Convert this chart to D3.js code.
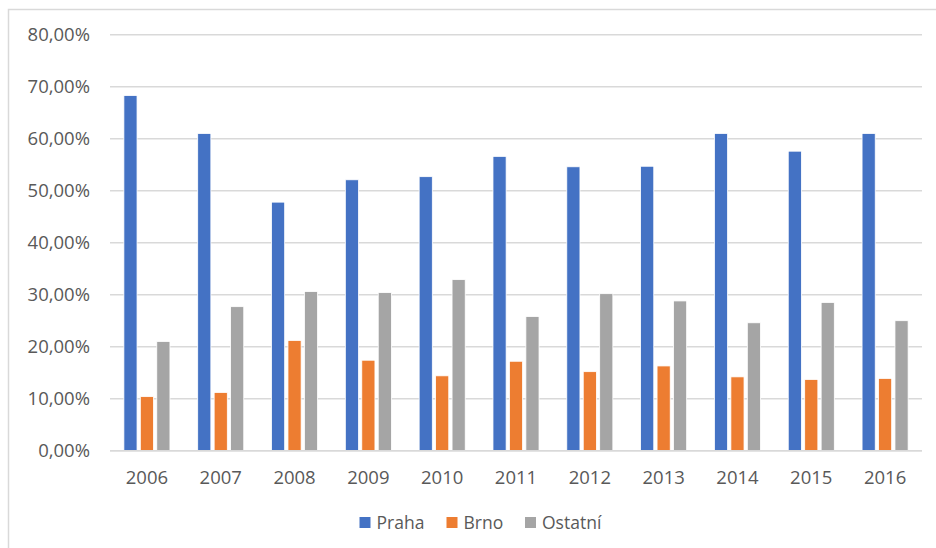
<!DOCTYPE html>
<html>
<head>
<meta charset="utf-8">
<script src="https://cdn.jsdelivr.net/npm/d3@7"></script>
<style>
  body { margin: 0; background: #fff; }
  text { font-family: "Open Sans", "Noto Sans", sans-serif; fill: #595959; }
</style>
</head>
<body>
<div id="chart"></div>
<script>
var years = ["2006","2007","2008","2009","2010","2011","2012","2013","2014","2015","2016"];
var seriesNames = ["Praha","Brno","Ostatní"];
var praha   = [68.3, 61.0, 47.8, 52.1, 52.7, 56.6, 54.6, 54.7, 61.0, 57.6, 61.0];
var brno    = [10.4, 11.2, 21.2, 17.4, 14.4, 17.2, 15.2, 16.3, 14.2, 13.7, 13.9];
var ostatni = [21.0, 27.7, 30.6, 30.4, 32.9, 25.8, 30.2, 28.8, 24.6, 28.5, 25.0];
var yTicks  = [0, 10, 20, 30, 40, 50, 60, 70, 80];
var colors  = ["#4472C4", "#ED7D31", "#A5A5A5"];

var width = 936, height = 548;
var plotLeft = 110, plotRight = 922, plotTop = 34.7, plotBottom = 450.7;

var svg = d3.select("#chart").append("svg")
  .attr("width", width)
  .attr("height", height);

// chart area frame (cut off at right and bottom)
svg.append("path")
  .attr("d", "M8.5," + height + "V9.5H" + width)
  .attr("fill", "none")
  .attr("stroke", "#d9d9d9")
  .attr("stroke-width", 1.5);

var y = d3.scaleLinear().domain([0, 80]).range([plotBottom, plotTop]);

var x0 = d3.scaleBand()
  .domain(years)
  .range([plotLeft, plotRight])
  .paddingInner(0.376)
  .paddingOuter(0.188);

var x1 = d3.scaleBand()
  .domain(seriesNames)
  .range([0, x0.bandwidth()])
  .paddingInner(0.2);

// gridlines
svg.append("g")
  .selectAll("line")
  .data(yTicks)
  .enter()
  .append("line")
  .attr("x1", plotLeft)
  .attr("x2", plotRight)
  .attr("y1", function(d){ return y(d) })
  .attr("y2", function(d){ return y(d) })
  .attr("stroke", "#d9d9d9")
  .attr("stroke-width", 1.5);

// y axis labels
var yAxis = d3.axisLeft(y)
  .tickValues(yTicks)
  .tickSize(0)
  .tickPadding(20)
  .tickFormat(function(d){ return d.toFixed(2).replace(".", ",") + "%" });

var yAxisGroup = svg.append("g")
  .attr("transform", "translate(" + plotLeft + ",0)")
  .call(yAxis);
yAxisGroup.select(".domain").remove();
yAxisGroup.selectAll("text")
  .style("font-size", "18.5px")
  .attr("fill", "#595959");

// bars
var series = [praha, brno, ostatni];
var groups = svg.append("g")
  .selectAll("g")
  .data(years)
  .enter()
  .append("g")
  .attr("transform", function(d){ return "translate(" + x0(d) + ",0)" });

groups.selectAll("rect")
  .data(function(d, i){
    return seriesNames.map(function(s, j){ return {name: s, value: series[j][i], c: colors[j]} });
  })
  .enter()
  .append("rect")
  .attr("x", function(d){ return x1(d.name) })
  .attr("y", function(d){ return y(d.value) })
  .attr("width", x1.bandwidth())
  .attr("height", function(d){ return plotBottom - y(d.value) })
  .attr("fill", function(d){ return d.c })
  .attr("stroke", "#fff")
  .attr("stroke-width", 0.8);

// x axis
var xAxis = d3.axisBottom(x0).tickSize(0).tickPadding(20);
var xAxisGroup = svg.append("g")
  .attr("transform", "translate(0," + plotBottom + ")")
  .call(xAxis);
xAxisGroup.select(".domain")
  .attr("d", "M" + plotLeft + ",0H" + plotRight)
  .attr("stroke", "#d9d9d9")
  .attr("stroke-width", 1.5);
xAxisGroup.selectAll("text")
  .style("font-size", "18.5px")
  .attr("fill", "#595959");

// legend
var legendX = [359.5, 446.5, 525];
var legend = svg.append("g")
  .selectAll("g")
  .data(seriesNames)
  .enter()
  .append("g")
  .attr("transform", function(d, i){ return "translate(" + legendX[i] + ",517)" });

legend.append("rect")
  .attr("width", 11)
  .attr("height", 11)
  .attr("fill", function(d, i){ return colors[i] });

legend.append("text")
  .attr("x", 17)
  .attr("y", 11.5)
  .style("font-size", "17.5px")
  .text(function(d){ return d });
</script>
</body>
</html>
